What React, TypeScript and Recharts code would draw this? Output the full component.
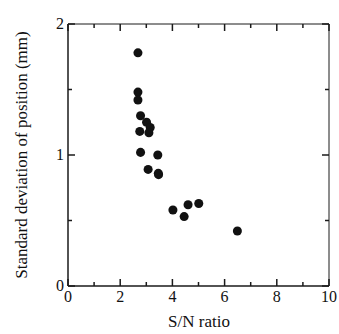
import { ScatterChart, Scatter, XAxis, YAxis } from "recharts";

const snRatio = [2.68, 2.68, 2.68, 2.78, 3.01, 3.15, 3.1, 2.75, 2.78, 3.44, 3.07, 3.47, 3.46, 4.02, 4.45, 4.6, 5.01, 6.49];
const stdDev = [1.78, 1.48, 1.42, 1.3, 1.25, 1.21, 1.17, 1.18, 1.02, 1.0, 0.89, 0.85, 0.86, 0.58, 0.53, 0.62, 0.63, 0.42];

const xTicks = [0, 1, 2, 3, 4, 5, 6, 7, 8, 9, 10];
const xLabeled = [0, 2, 4, 6, 8, 10];
const yTicks = [0, 0.5, 1, 1.5, 2];
const yLabeled = [0, 1, 2];

const points = snRatio.map((x, i) => ({ x, y: stdDev[i] }));

function makeTick(side: string, labeled: number[]) {
  return (props: any) => {
    const { x, y, payload } = props;
    const v = payload.value as number;
    const major = labeled.includes(v);
    const len = major ? 7 : 4;
    let x2 = x;
    let y2 = y;
    if (side === "bottom") y2 = y - len;
    if (side === "top") y2 = y + len;
    if (side === "left") x2 = x + len;
    if (side === "right") x2 = x - len;
    return (
      <g>
        <line x1={x} x2={x2} y1={y} y2={y2} stroke="#1a1a1a" strokeWidth={1.5} />
        {major && side === "bottom" && (
          <text x={x} y={y + 16} textAnchor="middle" style={{ fontFamily: "Liberation Serif", fontSize: 16 }} fill="#111">
            {v}
          </text>
        )}
        {major && side === "left" && (
          <text x={x - 4} y={y + 5} textAnchor="end" style={{ fontFamily: "Liberation Serif", fontSize: 16 }} fill="#111">
            {v}
          </text>
        )}
      </g>
    );
  };
}

export default function App() {
  return (
    <div style={{ position: "absolute", left: 0, top: 0, background: "#fff" }}>
      <ScatterChart width={339} height={334} margin={{ top: 23, right: 9, bottom: 0, left: 0 }}>
        <XAxis dataKey="x" type="number" domain={[0, 10]} ticks={xTicks} interval={0} height={48} tickSize={0} tickMargin={0} tickLine={false} tick={makeTick("bottom", xLabeled)} axisLine={{ stroke: "#1a1a1a", strokeWidth: 1.5 }} allowDataOverflow />
        <XAxis xAxisId="top" dataKey="x" orientation="top" type="number" domain={[0, 10]} ticks={xTicks} interval={0} height={1} tickSize={0} tickMargin={0} tickLine={false} tick={makeTick("top", xLabeled)} stroke="#1a1a1a" allowDataOverflow />
        <YAxis dataKey="y" type="number" domain={[0, 2]} ticks={yTicks} interval={0} width={68} tickSize={0} tickMargin={0} tickLine={false} tick={makeTick("left", yLabeled)} axisLine={{ stroke: "#1a1a1a", strokeWidth: 1.5 }} allowDataOverflow />
        <YAxis yAxisId="right" dataKey="y" orientation="right" type="number" domain={[0, 2]} ticks={yTicks} interval={0} width={1} tickSize={0} tickMargin={0} tickLine={false} tick={makeTick("right", yLabeled)} stroke="#1a1a1a" allowDataOverflow />
        <Scatter xAxisId="top" yAxisId="right" data={points} shape={() => <g />} isAnimationActive={false} />
        <Scatter data={points} fill="#111" isAnimationActive={false} />
      </ScatterChart>
      <div style={{ position: "absolute", left: 68, top: 312, width: 262, textAlign: "center", fontFamily: "Liberation Serif", fontSize: 17, color: "#111" }}>
        S/N ratio
      </div>
      <div
        style={{
          position: "absolute",
          left: 22,
          top: 155,
          transform: "translate(-50%, -50%) rotate(-90deg)",
          whiteSpace: "nowrap",
          fontFamily: "Liberation Serif",
          fontSize: 17,
          color: "#111",
        }}
      >
        Standard deviation of position (mm)
      </div>
    </div>
  );
}
